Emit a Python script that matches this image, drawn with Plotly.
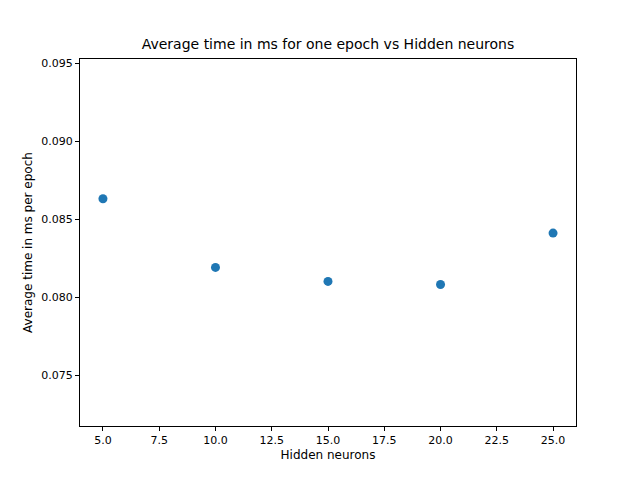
import plotly.graph_objects as go

hidden_neurons = [5, 10, 15, 20, 25]
avg_time_ms = [0.0863, 0.0819, 0.0810, 0.0808, 0.0841]

x_ticks = [5, 7.5, 10, 12.5, 15, 17.5, 20, 22.5, 25]
y_ticks = [0.075, 0.080, 0.085, 0.090, 0.095]

fig = go.Figure()
fig.add_trace(go.Scatter(x=hidden_neurons, y=avg_time_ms, mode='markers',
                         marker=dict(color='#1f77b4', size=9)))

axis_style = dict(showline=True, linecolor='black', linewidth=1, mirror=True,
                  ticks='outside', ticklen=4, tickcolor='black', showgrid=False,
                  zeroline=False, tickfont=dict(size=11, color='black'))

# page adds ~8px offset, so shift the margins
fig.update_layout(
    width=640, height=480,
    margin=dict(l=72, r=72, t=51, b=62),
    plot_bgcolor='white', paper_bgcolor='white',
    font=dict(family='DejaVu Sans', color='black'),
    title=dict(text='Average time in ms for one epoch vs Hidden neurons',
               x=0.5, xanchor='center', y=0.935, font=dict(size=14)),
    showlegend=False,
    xaxis=dict(range=[3.98, 26.02], tickvals=x_ticks,
               ticktext=[f'{v:.1f}' for v in x_ticks],
               title=dict(text='Hidden neurons', font=dict(size=12), standoff=4),
               **axis_style),
    yaxis=dict(range=[0.07173, 0.09526], tickvals=y_ticks,
               ticktext=[f'{v:.3f}' for v in y_ticks],
               title=dict(text='Average time in ms per epoch', font=dict(size=12), standoff=6),
               **axis_style),
)

fig.write_html('out.html')
